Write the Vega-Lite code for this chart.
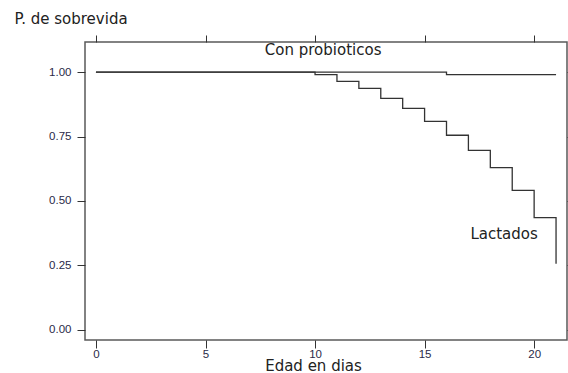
{
  "$schema": "https://vega.github.io/schema/vega-lite/v6.json",
  "width": 482,
  "height": 298,
  "autosize": {"type": "none"},
  "padding": {"left": 85, "top": 42, "right": 1, "bottom": 33},
  "background": "white",
  "config": {
    "view": {"stroke": "#5a5a5a", "strokeWidth": 1.5},
    "font": "DejaVu Sans",
    "axis": {"grid": false, "domain": false, "tickColor": "#333333", "labelColor": "#2a2a48", "labelFont": "Liberation Sans", "labelFontSize": 11.5, "titleFont": "DejaVu Sans", "titleFontWeight": "normal", "titleFontSize": 15, "titleColor": "#222222"}
  },
  "datasets": {
    "curves": [
      {"serie": "Con probioticos", "dia": 0, "p": 1.0},
      {"serie": "Con probioticos", "dia": 16, "p": 0.99},
      {"serie": "Con probioticos", "dia": 21, "p": 0.99},
      {"serie": "Lactados", "dia": 0, "p": 1.0},
      {"serie": "Lactados", "dia": 10, "p": 0.99},
      {"serie": "Lactados", "dia": 11, "p": 0.964},
      {"serie": "Lactados", "dia": 12, "p": 0.937},
      {"serie": "Lactados", "dia": 13, "p": 0.898},
      {"serie": "Lactados", "dia": 14, "p": 0.859},
      {"serie": "Lactados", "dia": 15, "p": 0.809},
      {"serie": "Lactados", "dia": 16, "p": 0.755},
      {"serie": "Lactados", "dia": 17, "p": 0.696},
      {"serie": "Lactados", "dia": 18, "p": 0.629},
      {"serie": "Lactados", "dia": 19, "p": 0.541},
      {"serie": "Lactados", "dia": 20, "p": 0.435},
      {"serie": "Lactados", "dia": 21, "p": 0.256}
    ],
    "labels": [
      {"texto": "Con probioticos", "dia": 10.37, "p": 1.086},
      {"texto": "Lactados", "dia": 18.63, "p": 0.37}
    ]
  },
  "resolve": {"axis": {"x": "independent", "y": "independent"}},
  "layer": [
    {
      "data": {"name": "curves"},
      "mark": {"type": "line", "interpolate": "step-after", "color": "#333333", "strokeWidth": 1.3},
      "encoding": {
        "x": {"field": "dia", "type": "quantitative", "scale": {"domain": [-0.5, 21.5], "nice": false, "zero": false},
          "axis": {"orient": "bottom", "values": [0, 5, 10, 15, 20], "tickSize": 8, "labelPadding": 0, "title": "Edad en dias", "titleX": 228, "titleY": 25, "titleAlign": "center", "titleBaseline": "middle"}},
        "y": {"field": "p", "type": "quantitative", "scale": {"domain": [-0.04, 1.117], "nice": false, "zero": false},
          "axis": {"orient": "left", "values": [0, 0.25, 0.5, 0.75, 1], "format": ".2f", "tickSize": 8, "labelPadding": 6, "title": "P. de sobrevida", "titleAngle": 0, "titleX": -71, "titleY": -24, "titleAlign": "left", "titleBaseline": "middle"}},
        "detail": {"field": "serie", "type": "nominal"}
      }
    },
    {
      "data": {"name": "labels"},
      "mark": {"type": "text", "font": "DejaVu Sans", "fontSize": 15, "color": "#222222"},
      "encoding": {
        "x": {"field": "dia", "type": "quantitative", "axis": {"orient": "top", "values": [0, 5, 10, 15, 20], "tickSize": 7, "labels": false, "title": null}},
        "y": {"field": "p", "type": "quantitative", "axis": {"orient": "right", "values": [0, 0.25, 0.5, 0.75, 1], "tickSize": 4, "labels": false, "title": null}},
        "text": {"field": "texto", "type": "nominal"}
      }
    }
  ]
}
